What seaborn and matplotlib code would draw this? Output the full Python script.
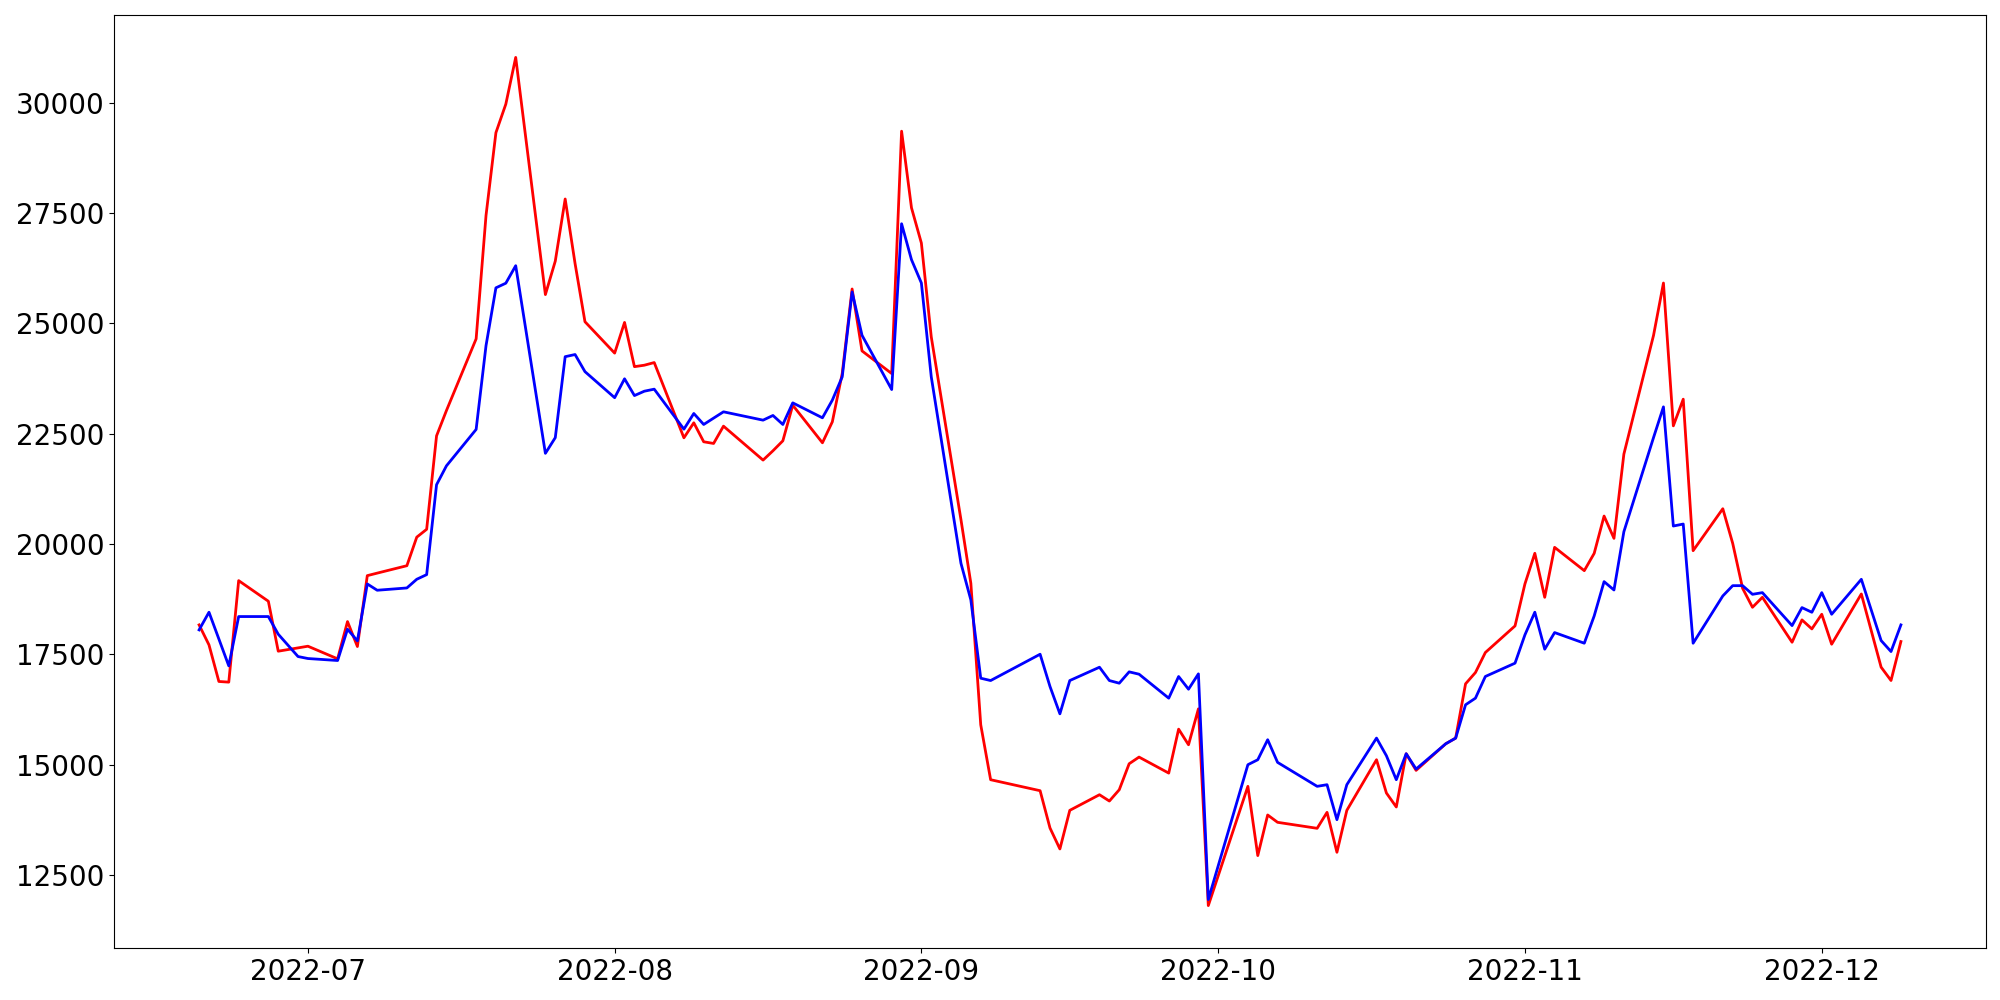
import pandas as pd
import matplotlib
matplotlib.use("Agg")
import matplotlib.pyplot as plt
import seaborn as sns

# trading days shown in the chart
dates = [
    "2022-06-20", "2022-06-21", "2022-06-22", "2022-06-23", "2022-06-24",
    "2022-06-27", "2022-06-28", "2022-06-30",
    "2022-07-01", "2022-07-04", "2022-07-05", "2022-07-06", "2022-07-07",
    "2022-07-08", "2022-07-11", "2022-07-12", "2022-07-13", "2022-07-14",
    "2022-07-15", "2022-07-18", "2022-07-19", "2022-07-20", "2022-07-21",
    "2022-07-22", "2022-07-25", "2022-07-26", "2022-07-27", "2022-07-28",
    "2022-07-29",
    "2022-08-01", "2022-08-02", "2022-08-03", "2022-08-04", "2022-08-05",
    "2022-08-08", "2022-08-09", "2022-08-10", "2022-08-11", "2022-08-12",
    "2022-08-16", "2022-08-17", "2022-08-18", "2022-08-19", "2022-08-22",
    "2022-08-23", "2022-08-24", "2022-08-25", "2022-08-26", "2022-08-29",
    "2022-08-30", "2022-08-31",
    "2022-09-01", "2022-09-02", "2022-09-05", "2022-09-06", "2022-09-07",
    "2022-09-08", "2022-09-13", "2022-09-14", "2022-09-15", "2022-09-16",
    "2022-09-19", "2022-09-20", "2022-09-21", "2022-09-22", "2022-09-23",
    "2022-09-26", "2022-09-27", "2022-09-28", "2022-09-29", "2022-09-30",
    "2022-10-04", "2022-10-05", "2022-10-06", "2022-10-07", "2022-10-11",
    "2022-10-12", "2022-10-13", "2022-10-14", "2022-10-17", "2022-10-18",
    "2022-10-19", "2022-10-20", "2022-10-21", "2022-10-24", "2022-10-25",
    "2022-10-26", "2022-10-27", "2022-10-28", "2022-10-31",
    "2022-11-01", "2022-11-02", "2022-11-03", "2022-11-04", "2022-11-07",
    "2022-11-08", "2022-11-09", "2022-11-10", "2022-11-11", "2022-11-14",
    "2022-11-15", "2022-11-16", "2022-11-17", "2022-11-18", "2022-11-21",
    "2022-11-22", "2022-11-23", "2022-11-24", "2022-11-25", "2022-11-28",
    "2022-11-29", "2022-11-30",
    "2022-12-01", "2022-12-02", "2022-12-05", "2022-12-07", "2022-12-08",
    "2022-12-09",
]

red_values = [
    18165, 17712, 16883, 16868, 19168, 18701, 17569, 17644,
    17682, 17396, 18240, 17675, 19281, 19338, 19506, 20153, 20331, 22448,
    23022, 24646, 27443, 29318, 29964, 31023, 25649, 26408, 27815, 26352,
    25034,
    24323, 25018, 24016, 24049, 24109, 22404, 22744, 22314, 22276, 22668,
    21899, 22110, 22336, 23143, 22291, 22766, 23860, 25776, 24373, 23860,
    29351, 27616,
    26817, 24690, 20550, 19108, 15901, 14657, 14408, 13563, 13088, 13963,
    14317, 14174, 14430, 15019, 15170, 14807, 15803, 15449, 16263, 11805,
    14507, 12938, 13858, 13692, 13556, 13918, 13013, 13963, 15110, 14356,
    14039, 15246, 14869, 15472, 15600, 16830, 17086, 17539, 18142,
    19093, 19787, 18790, 19922, 19394, 19786, 20631, 20126, 22034, 24727,
    25911, 22675, 23279, 19847, 20797, 20012, 18994, 18564, 18790, 17772,
    18278, 18074,
    18406, 17727, 18866, 17207, 16905, 17788,
]

blue_values = [
    18052, 18452, 17845, 17237, 18354, 18354, 17954, 17448,
    17403, 17358, 18067, 17803, 19093, 18950, 19002, 19199, 19304, 21341,
    21769, 22594, 24493, 25802, 25907, 26303, 22052, 22408, 24242, 24291,
    23903,
    23313, 23741, 23361, 23460, 23506, 22600, 22955, 22706, 22850, 22993,
    22804, 22910, 22706, 23196, 22857, 23257, 23785, 25708, 24727, 23498,
    27254, 26440,
    25912, 23785, 19561, 18731, 16957, 16904, 17500, 16769, 16150, 16904,
    17206, 16904, 16844, 17101, 17048, 16505, 16995, 16708, 17055, 11942,
    14997, 15110, 15563, 15050, 14507, 14544, 13752, 14544, 15600, 15201,
    14657, 15246, 14899, 15472, 15600, 16355, 16505, 16996, 17298,
    17939, 18452, 17614, 17991, 17750, 18368, 19145, 18956, 20276, 22411,
    23105, 20405, 20450, 17750, 18821, 19054, 19054, 18858, 18896, 18149,
    18557, 18451,
    18896, 18406, 19198, 17810, 17561, 18165,
]

df = pd.DataFrame({
    "date": pd.to_datetime(dates),
    "red": red_values,
    "blue": blue_values,
})

fig, ax = plt.subplots(figsize=(20, 10), dpi=100)

sns.lineplot(data=df, x="date", y="red", color="red", linewidth=2, ax=ax)
sns.lineplot(data=df, x="date", y="blue", color="blue", linewidth=2, ax=ax)

ax.set_xlabel("")
ax.set_ylabel("")
ax.tick_params(axis="both", labelsize=20)

plt.subplots_adjust(left=0.057, right=0.993, bottom=0.052, top=0.985)
plt.savefig("out.png", dpi=100)
